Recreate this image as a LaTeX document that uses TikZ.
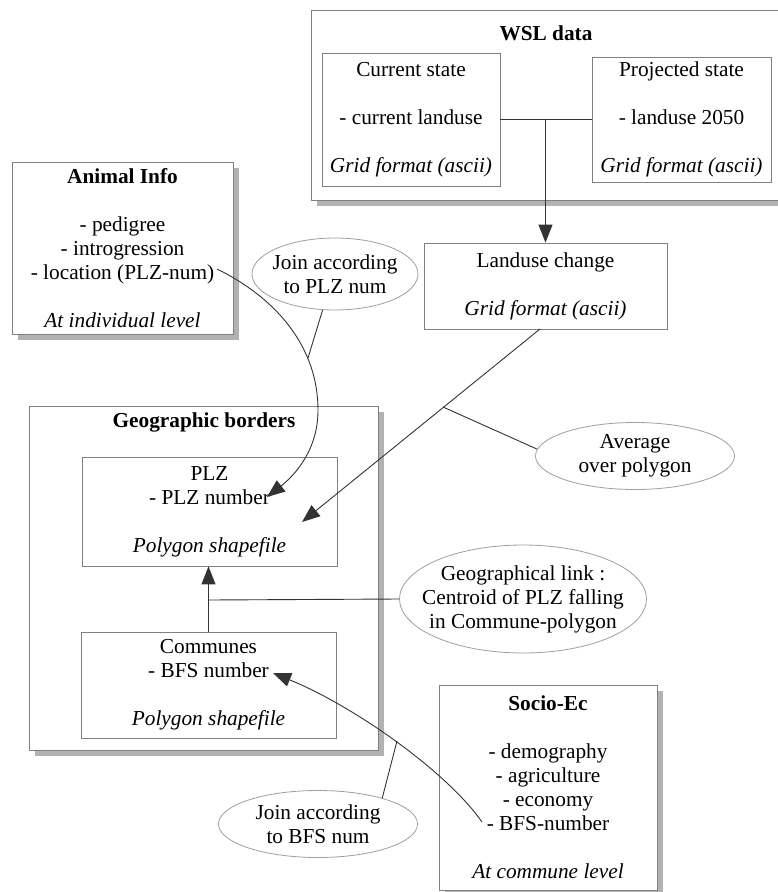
\documentclass[tikz,border=0pt]{standalone}
\usepackage{fontspec}
\setmainfont{Liberation Serif}
\usetikzlibrary{arrows.meta,shapes.geometric,shadows}
\definecolor{boxgray}{gray}{0.5}
\definecolor{ellgray}{gray}{0.62}
\definecolor{shadowgray}{gray}{0.7}
\definecolor{linegray}{gray}{0.2}
\newcommand\bigfont{\fontsize{21.3}{24}\selectfont}
\tikzset{
  box/.style={draw=boxgray, line width=0.8pt, fill=white, align=center, inner sep=0pt, font=\bigfont},
  sbox/.style={box, general shadow={fill=shadowgray, shadow xshift=6pt, shadow yshift=-6pt}},
  ell/.style={ellipse, draw=ellgray, line width=0.8pt, fill=white, align=center, inner xsep=-16pt, inner ysep=-10pt, font=\bigfont},
  ttl/.style={inner sep=0pt, font=\bigfont\bfseries},
  conn/.style={draw=linegray, line width=0.9pt},
  arr/.style={conn, -{Triangle[length=18pt,width=14pt]}},
}
\begin{document}
\begin{tikzpicture}[x=1pt,y=-1pt]
\useasboundingbox (0,0) rectangle (777,892);
% WSL data group
\node[sbox, minimum width=471pt, minimum height=190pt] (wsl) at (546.5,105) {};
\node[ttl] (wsltitle) at (546,33) {WSL data};
\node[box, minimum width=178pt, minimum height=133pt] (cur) at (411,119.5) {Current state\\[24pt]- current landuse\\[24pt]\textit{Grid format (ascii)}};
\node[box, minimum width=179pt, minimum height=125pt] (proj) at (681.5,119.5) {Projected state\\[24pt]- landuse 2050\\[24pt]\textit{Grid format (ascii)}};
\node[box, minimum width=243pt, minimum height=86pt] (land) at (545.5,286) {Landuse change\\[24pt]\textit{Grid format (ascii)}};
% Animal info
\node[sbox, minimum width=221pt, minimum height=172pt] (animal) at (122.5,248) {\textbf{Animal Info}\\[24pt]- pedigree\\- introgression\\- location (PLZ-num)\\[24pt]\textit{At individual level}};
% Geographic borders
\node[sbox, minimum width=349pt, minimum height=344pt] (geo) at (203.5,578) {};
\node[ttl] (geotitle) at (204,422) {Geographic borders};
\node[box, minimum width=255pt, minimum height=109pt] (plz) at (209.5,511.5) {PLZ\\- PLZ number\\[24pt]\textit{Polygon shapefile}};
\node[box, minimum width=255pt, minimum height=106pt] (com) at (208.5,685) {Communes\\- BFS number\\[24pt]\textit{Polygon shapefile}};
% Socio-Ec
\node[sbox, minimum width=218pt, minimum height=205pt] (socio) at (548,787.5) {\textbf{Socio-Ec}\\[24pt]- demography\\- agriculture\\- economy\\- BFS-number\\[24pt]\textit{At commune level}};
% ellipses
\node[ell, minimum width=166pt, minimum height=72pt] (joinplz) at (335,274) {Join according\\to PLZ num};
\node[ell, minimum width=199pt, minimum height=67pt] (avg) at (635,456) {Average\\over polygon};
\node[ell, minimum width=247pt, minimum height=108pt] (geolink) at (523,599) {Geographical link :\\Centroid of PLZ falling\\in Commune-polygon};
\node[ell, minimum width=199pt, minimum height=67pt] (joinbfs) at (318,824) {Join according\\to BFS num};
% coordinates
\coordinate (locend) at (217,269);
\coordinate (plztip1) at (267,497);
\coordinate (plzjoin) at (308,358);
\coordinate (landout) at (540,329);
\coordinate (plztip2) at (302,522);
\coordinate (avgjoin) at (443,407);
\coordinate (geojoin) at (208.5,600);
\coordinate (bfsstart) at (482,822);
\coordinate (bfstip) at (273,673);
\coordinate (bfsjoin) at (397,741);
% connectors
\draw[conn] (cur.east) -- (proj.west);
\draw[arr] (cur.east -| land.north) -- (land.north);
\draw[arr] (locend) .. controls (280,300) and (318,350) .. (318,410) .. controls (318,450) and (295,475) .. (plztip1);
\draw[conn] (joinplz.251) -- (plzjoin);
\draw[arr] (landout) -- (plztip2);
\draw[conn] (avgjoin) -- (avg.176);
\draw[arr] (com.north) -- (com.north |- plz.south);
\draw[conn] (geojoin) -- (geolink.west);
\draw[arr] (bfsstart) .. controls (448,773) and (356,707) .. (bfstip);
\draw[conn] (joinbfs.22) -- (bfsjoin);
\end{tikzpicture}
\end{document}
